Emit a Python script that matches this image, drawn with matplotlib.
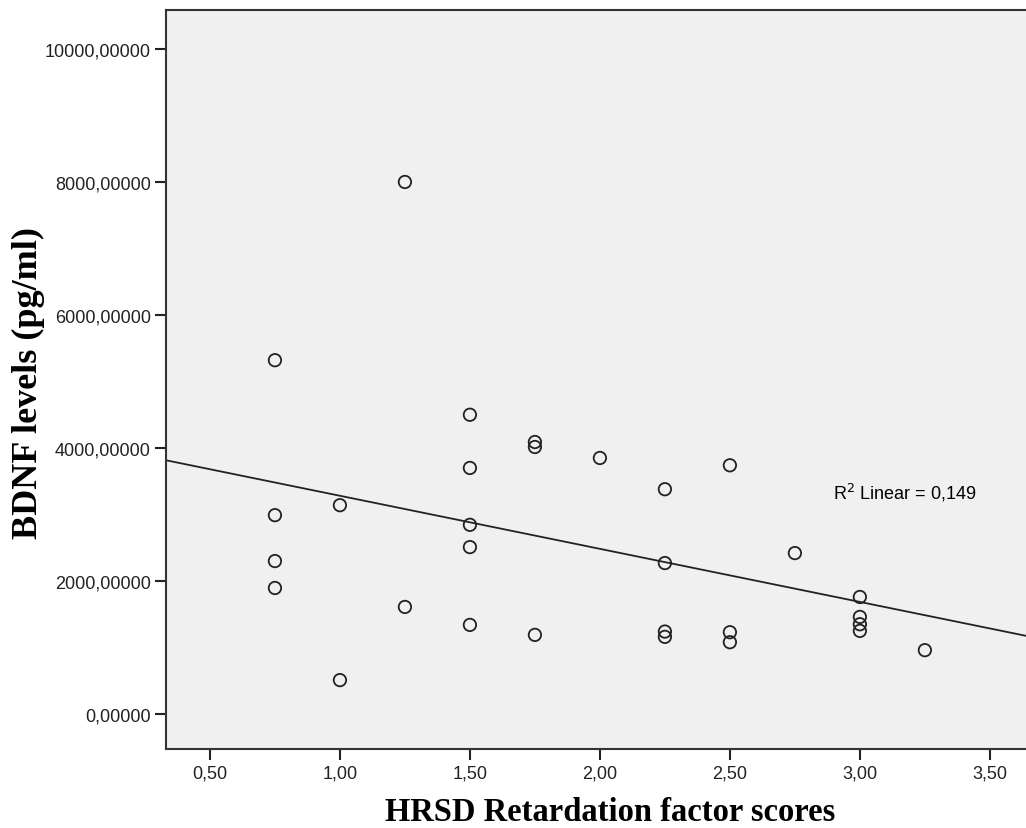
import numpy as np
import matplotlib.pyplot as plt
from matplotlib.ticker import FuncFormatter

# HRSD retardation factor score vs BDNF level
hrsd = [0.75, 0.75, 0.75, 0.75,
        1.00, 1.00,
        1.25, 1.25,
        1.50, 1.50, 1.50, 1.50, 1.50,
        1.75, 1.75, 1.75,
        2.00,
        2.25, 2.25, 2.25, 2.25,
        2.50, 2.50, 2.50,
        2.75,
        3.00, 3.00, 3.00, 3.00,
        3.25]
bdnf = [5320, 2990, 2300, 1895,
        3140, 510,
        8000, 1610,
        4500, 3700, 2845, 2510, 1340,
        4090, 4015, 1190,
        3850,
        3380, 2270, 1240, 1160,
        3740, 1230, 1080,
        2420,
        1760, 1460, 1350, 1250,
        960]

x_ticks = [0.5, 1.0, 1.5, 2.0, 2.5, 3.0, 3.5]
y_ticks = [0, 2000, 4000, 6000, 8000, 10000]

x = np.array(hrsd)
y = np.array(bdnf)
slope, icpt = np.polyfit(x, y, 1)

plt.rcParams['font.family'] = ['Liberation Sans', 'DejaVu Sans']

fig = plt.figure(figsize=(10.26, 8.29), dpi=100)
ax = fig.add_axes([166/1026, 1 - 750/829, (1026 - 166)/1026, (750 - 11)/829])
ax.set_facecolor('#f0f0f0')

ax.scatter(x, y, s=80, facecolors='none', edgecolors='#222222', linewidths=1.3, zorder=3)

xl = np.array([0.331, 3.70])
ax.plot(xl, icpt + slope*xl, color='#222222', lw=1.3, zorder=2)

ax.text(2.895, 3340, r'R$^2$ Linear = 0,149', fontsize=13, va='center', ha='left')

ax.set_xlim(0.331, 3.639)
ax.set_ylim(-526, 10586)
ax.set_xticks(x_ticks)
ax.set_yticks(y_ticks)
ax.xaxis.set_major_formatter(FuncFormatter(lambda v, p: ('%.2f' % v).replace('.', ',')))
ax.yaxis.set_major_formatter(FuncFormatter(lambda v, p: ('%.5f' % v).replace('.', ',')))
ax.tick_params(direction='out', length=8, width=1.5, labelsize=13, colors='#222222', pad=3)

for side in ['left', 'bottom', 'top']:
    ax.spines[side].set_linewidth(1.5)
    ax.spines[side].set_color('#333333')
ax.spines['right'].set_visible(False)

ax.set_xlabel('HRSD Retardation factor scores', family='Liberation Serif', fontweight='bold',
              fontsize=23.5, va='center')
ax.set_ylabel('BDNF levels (pg/ml)', family='Liberation Serif', fontweight='bold',
              fontsize=26, va='center')
ax.xaxis.set_label_coords(0.516, -0.084)
ax.yaxis.set_label_coords(-0.160, 0.497)

fig.savefig('out.png', dpi=100)
